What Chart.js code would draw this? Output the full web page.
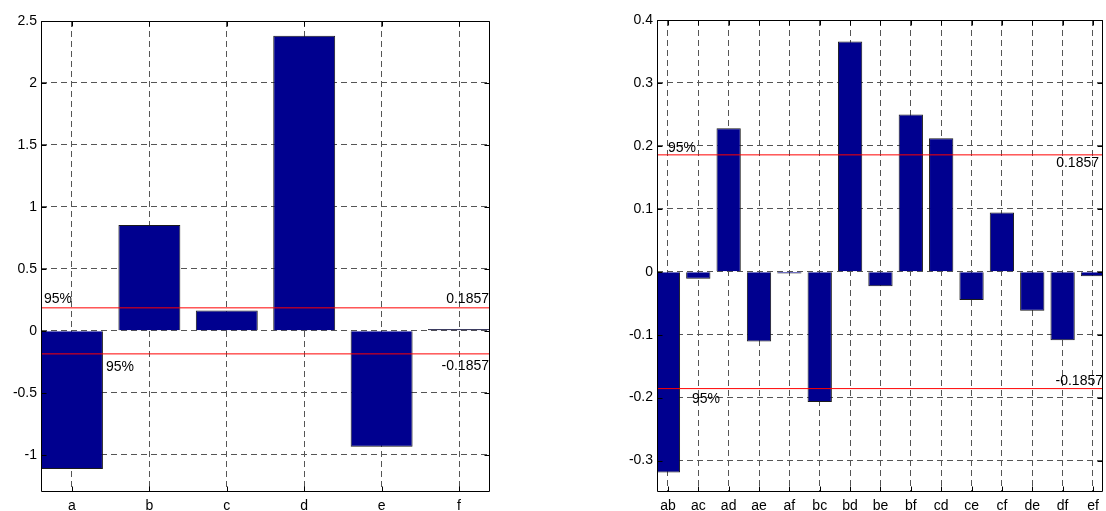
<!DOCTYPE html>
<html><head><meta charset="utf-8">
<script src="https://cdn.jsdelivr.net/npm/chart.js@4.4.1/dist/chart.umd.min.js"></script>
<style>
html,body{margin:0;padding:0;background:#fff;}
#wrap{position:relative;width:1106px;height:511px;overflow:hidden;}
.box{position:absolute;top:0;height:511px;}
</style></head><body>
<div id="wrap">
  <div class="box" style="left:0;width:500px"><canvas id="c1"></canvas></div>
  <div class="box" style="left:600px;width:506px"><canvas id="c2"></canvas></div>
</div>
<script>
// ---- data ----
const leftCategories = ['a', 'b', 'c', 'd', 'e', 'f'];
const leftValues = [-1.115, 0.855, 0.165, 2.38, -0.935, 0.016];
const leftYTicks = [-1, -0.5, 0, 0.5, 1, 1.5, 2, 2.5];

const rightCategories = ['ab', 'ac', 'ad', 'ae', 'af', 'bc', 'bd', 'be', 'bf', 'cd', 'ce', 'cf', 'de', 'df', 'ef'];
const rightValues = [-0.319, -0.011, 0.228, -0.111, -0.003, -0.207, 0.366, -0.023, 0.25, 0.212, -0.045, 0.094, -0.062, -0.109, -0.007];
const rightYTicks = [-0.3, -0.2, -0.1, 0, 0.1, 0.2, 0.3, 0.4];

const threshold = 0.1857;
const thresholdLabels = ['0.1857', '-0.1857'];
const confLabel = '95%';

// ---- styling ----
const FONT = '"Liberation Sans", Arial, Helvetica, sans-serif';
const FSIZE = 14;
const BAR_COLOR = '#00008f';

const overlayPlugin = {
  id: 'overlay',
  afterDatasetsDraw(chart, args, opts) {
    const ctx = chart.ctx;
    const a = chart.chartArea;
    const ys = chart.scales.y, xs = chart.scales.x;
    ctx.save();
    ctx.strokeStyle = '#000';
    ctx.lineWidth = 1;
    const L = Math.round(a.left) + 0.5, R = Math.round(a.right) - 0.5;
    const T = Math.round(a.top) + 0.5, B = Math.round(a.bottom) - 0.5;
    ctx.beginPath();
    ctx.rect(L, T, R - L, B - T);
    ctx.stroke();
    const tl = 5;
    ctx.beginPath();
    ys.ticks.forEach(t => {
      const p = Math.round(ys.getPixelForValue(t.value)) + 0.5;
      ctx.moveTo(L, p); ctx.lineTo(L + tl, p);
      ctx.moveTo(R, p); ctx.lineTo(R - tl, p);
    });
    xs.ticks.forEach(t => {
      const p = Math.round(xs.getPixelForValue(t.value)) + 0.5;
      ctx.moveTo(p, B); ctx.lineTo(p, B - tl);
      ctx.moveTo(p, T); ctx.lineTo(p, T + tl);
    });
    ctx.stroke();
    ctx.fillStyle = '#000';
    ctx.font = FSIZE + 'px ' + FONT;
    ctx.textBaseline = 'alphabetic';
    (opts.texts || []).forEach(t => {
      const y = ys.getPixelForValue(t.v) + t.dy;
      if (t.align === 'left') {
        ctx.textAlign = 'left';
        ctx.fillText(t.text, a.left + t.dx, y);
      } else {
        ctx.textAlign = 'right';
        ctx.fillText(t.text, a.right + t.dx, y);
      }
    });
    ctx.restore();
  }
};

function makeChart(id, cats, vals, yTicks, cfg) {
  const barData = vals.map((v, i) => ({ x: i + 1, y: v }));
  const lineDs = (v) => ({
    type: 'line',
    data: [{ x: cfg.xmin, y: v }, { x: cfg.xmax, y: v }],
    borderColor: '#ff0000',
    borderWidth: 1,
    pointRadius: 0,
    fill: false,
    clip: 0,
    order: 1
  });
  return new Chart(document.getElementById(id), {
    type: 'bar',
    data: {
      datasets: [
        lineDs(threshold),
        lineDs(-threshold),
        {
          type: 'bar',
          data: barData,
          backgroundColor: BAR_COLOR,
          borderColor: '#1a1a1a',
          borderWidth: 1,
          categoryPercentage: 1,
          barPercentage: 0.8,
          clip: 0,
          order: 2
        }
      ]
    },
    options: {
      responsive: true,
      maintainAspectRatio: false,
      animation: false,
      events: [],
      layout: {
        autoPadding: false,
        padding: { left: 0, top: cfg.top, right: cfg.right, bottom: 0 }
      },
      plugins: {
        legend: { display: false },
        tooltip: { enabled: false },
        title: { display: false },
        overlay: { texts: cfg.texts }
      },
      scales: {
        x: {
          type: 'linear',
          min: cfg.xmin,
          max: cfg.xmax,
          offset: false,
          afterBuildTicks: (s) => { s.ticks = cats.map((c, i) => ({ value: i + 1 })); },
          afterFit: (s) => { s.height = 511 - cfg.bottom; },
          grid: { offset: false, color: '#555', lineWidth: 1, drawTicks: false },
          border: { display: false, dash: [6, 4] },
          ticks: {
            autoSkip: false, maxRotation: 0, minRotation: 0, padding: 6,
            color: '#000', font: { family: FONT, size: FSIZE },
            callback: (v, i) => cats[i]
          }
        },
        y: {
          type: 'linear',
          min: cfg.ymin,
          max: cfg.ymax,
          afterBuildTicks: (s) => { s.ticks = yTicks.map(v => ({ value: v })); },
          afterFit: (s) => { s.width = cfg.left; },
          grid: { color: '#555', lineWidth: 1, drawTicks: false },
          border: { display: false, dash: [6, 4] },
          ticks: {
            padding: 4, color: '#000', font: { family: FONT, size: FSIZE },
            callback: (v) => String(v)
          }
        }
      }
    },
    plugins: [overlayPlugin]
  });
}

makeChart('c1', leftCategories, leftValues, leftYTicks, {
  xmin: 0.6, xmax: 6.4, ymin: -1.3, ymax: 2.5,
  left: 41, top: 21, right: 10, bottom: 492,
  texts: [
    { text: confLabel, align: 'left', dx: 3, v: threshold, dy: -5 },
    { text: thresholdLabels[0], align: 'right', dx: -1, v: threshold, dy: -5 },
    { text: confLabel, align: 'left', dx: 65, v: -threshold, dy: 17 },
    { text: thresholdLabels[1], align: 'right', dx: -1, v: -threshold, dy: 16.5 }
  ]
});

makeChart('c2', rightCategories, rightValues, rightYTicks, {
  xmin: 0.64, xmax: 15.33, ymin: -0.35, ymax: 0.4,
  left: 57, top: 20, right: 3, bottom: 492,
  texts: [
    { text: confLabel, align: 'left', dx: 11, v: threshold, dy: -2.5 },
    { text: thresholdLabels[0], align: 'right', dx: -4, v: threshold, dy: 12.5 },
    { text: confLabel, align: 'left', dx: 35, v: -threshold, dy: 14.5 },
    { text: thresholdLabels[1], align: 'right', dx: 0, v: -threshold, dy: -3.5 }
  ]
});
</script>
</body></html>
